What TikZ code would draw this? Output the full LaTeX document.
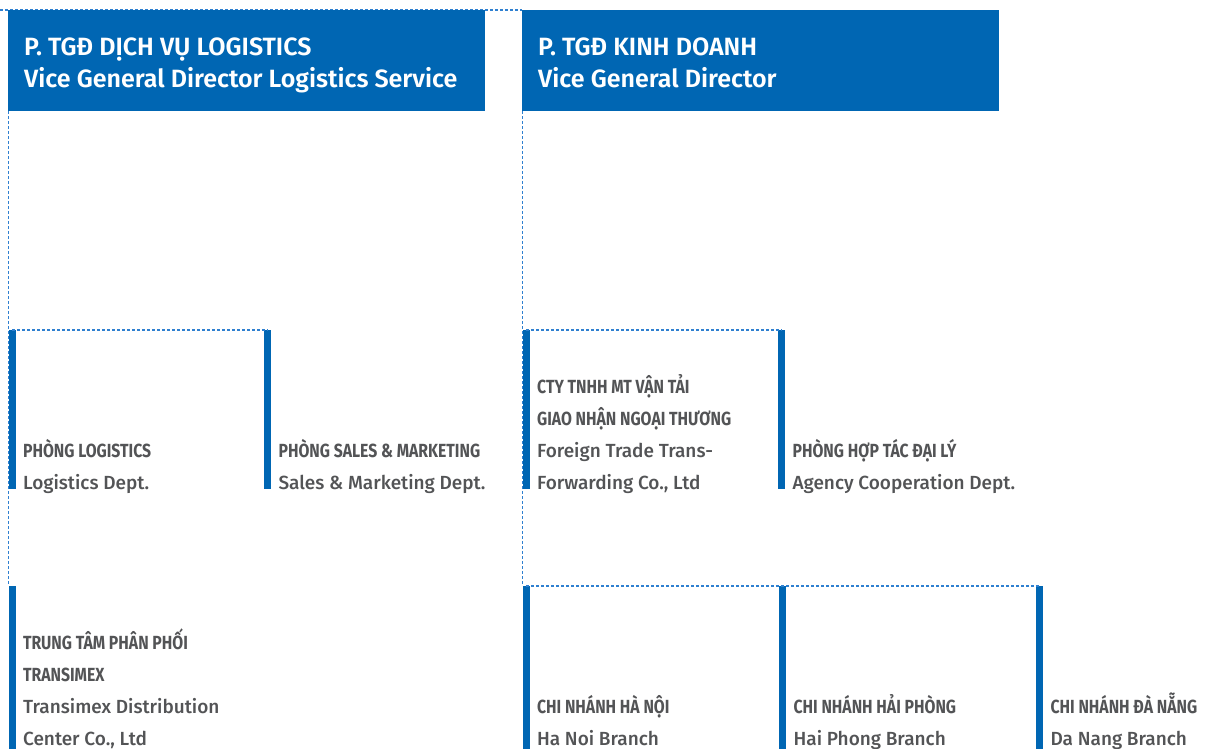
\documentclass[tikz,border=0pt]{standalone}
\usepackage{fontspec}
\setmainfont{Fira Sans}
\newfontfamily\headfont{Fira Sans SemiBold}
\newfontfamily\capsfont{Fira Sans Bold}[FakeStretch=0.83]
\newfontfamily\engfont{Fira Sans Medium}
\usetikzlibrary{calc, positioning}
\definecolor{tblue}{HTML}{0066B3}
\definecolor{tlink}{HTML}{2F80D0}
\definecolor{tgray}{HTML}{535456}
\newcommand\vn[1]{{\capsfont #1}}
\newcommand\en[1]{{\engfont #1}}
\tikzset{
  head/.style={fill=tblue, anchor=north west, minimum width=477pt, minimum height=101pt, inner sep=0pt},
  headtxt/.style={anchor=base west, inner sep=0pt, text=white, align=left, font=\headfont\fontsize{25}{32}\selectfont},
  bar/.style={fill=tblue, anchor=north west, minimum width=7pt, inner sep=0pt},
  unit/.style={anchor=base west, inner sep=0pt, text=tgray, align=left, font=\fontsize{19}{32}\selectfont},
  link/.style={tlink, dash pattern=on 3pt off 2pt, line width=1.1pt}
}

\begin{document}
\begin{tikzpicture}[x=1pt, y=-1pt]
  \useasboundingbox (0,0) rectangle (1210,749);
  \coordinate (edge) at (0,10);
  \draw[link] (edge) -- (522,10);
  % directors
  \node[head] (vgd1) at (8,10) {};
  \node[head] (vgd2) at (522,10) {};
  \node[headtxt] (vgd1txt) at ($(vgd1.north west)+(16,78)$) {P. TGĐ DỊCH VỤ LOGISTICS\\Vice General Director Logistics Service};
  \node[headtxt] (vgd2txt) at ($(vgd2.north west)+(16,78)$) {P. TGĐ KINH DOANH\\Vice General Director};
  % bars
  \node[bar, minimum height=159pt] (logbar) at (8.5,330) {};
  \node[bar, minimum height=159pt] (salbar) at (264,330) {};
  \node[bar, minimum height=163pt] (trabar) at (8.5,586) {};
  \node[bar, minimum height=159pt] (ctybar) at (522.5,330) {};
  \node[bar, minimum height=159pt] (agbar) at (778,330) {};
  \node[bar, minimum height=163pt] (hnbar) at (522.5,586) {};
  \node[bar, minimum height=163pt] (hpbar) at (779,586) {};
  \node[bar, minimum height=163pt] (dnbar) at (1036,586) {};
  % links
  \draw[link] (vgd1.south west -| trabar.north west) -- (trabar.north west);
  \draw[link] (vgd2.south west -| hnbar.north west) -- (hnbar.north west);
  \draw[link] (logbar.north) -- (salbar.north);
  \draw[link] (ctybar.north) -- (agbar.north);
  \draw[link] (hnbar.north) -- (dnbar.north);
  % units
  \node[unit] (log) at ($(logbar.north east)+(7,159.5)$) {\vn{PHÒNG LOGISTICS}\\\en{Logistics Dept.}};
  \node[unit] (sal) at ($(salbar.north east)+(7,159.5)$) {\vn{PHÒNG SALES \& MARKETING}\\\en{Sales \& Marketing Dept.}};
  \node[unit] (tra) at ($(trabar.north east)+(7,159.5)$) {\vn{TRUNG TÂM PHÂN PHỐI}\\\vn{TRANSIMEX}\\\en{Transimex Distribution}\\\en{Center Co., Ltd}};
  \node[unit] (cty) at ($(ctybar.north east)+(7,159.5)$) {\vn{CTY TNHH MT VẬN TẢI}\\\vn{GIAO NHẬN NGOẠI THƯƠNG}\\\en{Foreign Trade Trans-}\\\en{Forwarding Co., Ltd}};
  \node[unit] (ag) at ($(agbar.north east)+(7,159.5)$) {\vn{PHÒNG HỢP TÁC ĐẠI LÝ}\\\en{Agency Cooperation Dept.}};
  \node[unit] (hn) at ($(hnbar.north east)+(7,159.5)$) {\vn{CHI NHÁNH HÀ NỘI}\\\en{Ha Noi Branch}};
  \node[unit] (hp) at ($(hpbar.north east)+(7,159.5)$) {\vn{CHI NHÁNH HẢI PHÒNG}\\\en{Hai Phong Branch}};
  \node[unit] (dn) at ($(dnbar.north east)+(7,159.5)$) {\vn{CHI NHÁNH ĐÀ NẴNG}\\\en{Da Nang Branch}};
\end{tikzpicture}
\end{document}
